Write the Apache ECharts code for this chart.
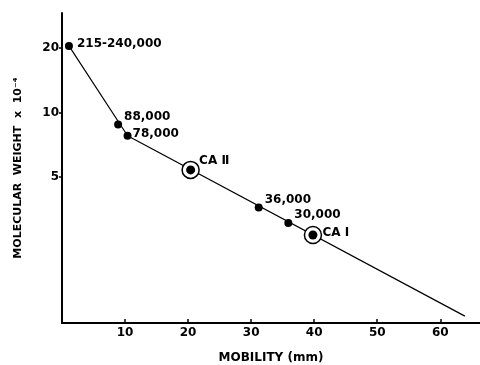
<!DOCTYPE html>
<html>
<head>
<meta charset="utf-8">
<script src="https://cdn.jsdelivr.net/npm/echarts@6/dist/echarts.min.js"></script>
<style>html,body{margin:0;padding:0;background:#fff;}#c{width:480px;height:365px;}</style>
</head>
<body>
<div id="c"></div>
<script>
// Marker proteins: mobility (mm) and molecular weight (x 10^-4)
const markerMobility = [1.1, 8.9, 10.4, 31.2, 35.9];
const markerWeight = [20.5, 8.8, 7.8, 3.6, 3.05];
const markerLabels = ['215-240,000', '88,000', '78,000', '36,000', '30,000'];
// Carbonic anhydrase isozymes (circled)
const caMobility = [20.4, 39.8];
const caWeight = [5.4, 2.68];
const caLabels = ['CA Ⅱ', 'CA Ⅰ'];
// Calibration line vertices
const lineMobility = [1.1, 10.4, 63.9];
const lineWeight = [20.5, 7.8, 1.12];
// Axis ticks
const xTicks = [10, 20, 30, 40, 50, 60];
const yTicks = [5, 10, 20];

const FONT = 'DejaVu Sans';
// per-label placement (style only)
const markerLabelOffsets = [[0, -2], [-2, -8], [-3, -2], [-2, -8], [-2, -8]];
const caLabelOffsets = [[0, -9], [1, -2]];

const chart = echarts.init(document.getElementById('c'), null, {renderer: 'canvas'});
const lbl = (offs) => ({
  show: true, position: 'right', distance: 4, offset: offs,
  color: '#000', opacity: 1, fontFamily: FONT, fontWeight: 'bold', fontSize: 12
});

chart.setOption({
  animation: false,
  backgroundColor: '#fff',
  grid: {left: 62, right: 0, top: 13, bottom: 42, containLabel: false, outerBoundsMode: 'none'},
  xAxis: {
    type: 'value', min: 0, max: 66.3, interval: 10,
    name: 'MOBILITY (mm)', nameLocation: 'middle', nameGap: 29,
    nameTextStyle: {color: '#000', fontFamily: FONT, fontWeight: 'bold', fontSize: 12},
    axisLine: {lineStyle: {color: '#000', width: 2}},
    axisTick: {show: true, inside: true, length: 4, customValues: xTicks, lineStyle: {color: '#000', width: 1.5}},
    axisLabel: {customValues: xTicks, margin: 4, color: '#000', fontFamily: FONT, fontWeight: 'bold', fontSize: 12},
    splitLine: {show: false}
  },
  yAxis: {
    type: 'log', min: 1.04, max: 29.2,
    name: 'MOLECULAR  WEIGHT  x  10⁻⁴', nameLocation: 'middle', nameGap: 38, nameRotate: 90,
    nameTextStyle: {color: '#000', fontFamily: FONT, fontWeight: 'bold', fontSize: 11},
    axisLine: {show: true, lineStyle: {color: '#000', width: 2}},
    axisTick: {show: true, length: 3, customValues: yTicks, lineStyle: {color: '#000', width: 1.5}},
    axisLabel: {customValues: yTicks, margin: 3, color: '#000', fontFamily: FONT, fontWeight: 'bold', fontSize: 12},
    splitLine: {show: false}
  },
  series: [
    {
      type: 'line', data: lineMobility.map((x, i) => [x, lineWeight[i]]),
      symbol: 'none', lineStyle: {color: '#000', width: 1.2}, z: 1
    },
    {
      type: 'scatter', data: markerMobility.map((x, i) => ({
        value: [x, markerWeight[i]],
        label: Object.assign(lbl(markerLabelOffsets[i]), {formatter: markerLabels[i]})
      })),
      symbol: 'circle', symbolSize: 8, itemStyle: {color: '#000', opacity: 1}, z: 3
    },
    {
      type: 'scatter', data: caMobility.map((x, i) => [x, caWeight[i]]),
      symbol: 'circle', symbolSize: 17,
      itemStyle: {color: '#fff', borderColor: '#000', borderWidth: 1.5, opacity: 1}, z: 2
    },
    {
      type: 'scatter', data: caMobility.map((x, i) => ({
        value: [x, caWeight[i]],
        label: Object.assign(lbl(caLabelOffsets[i]), {formatter: caLabels[i]})
      })),
      symbol: 'circle', symbolSize: 9, itemStyle: {color: '#000', opacity: 1}, z: 4
    }
  ]
});
</script>
</body>
</html>
